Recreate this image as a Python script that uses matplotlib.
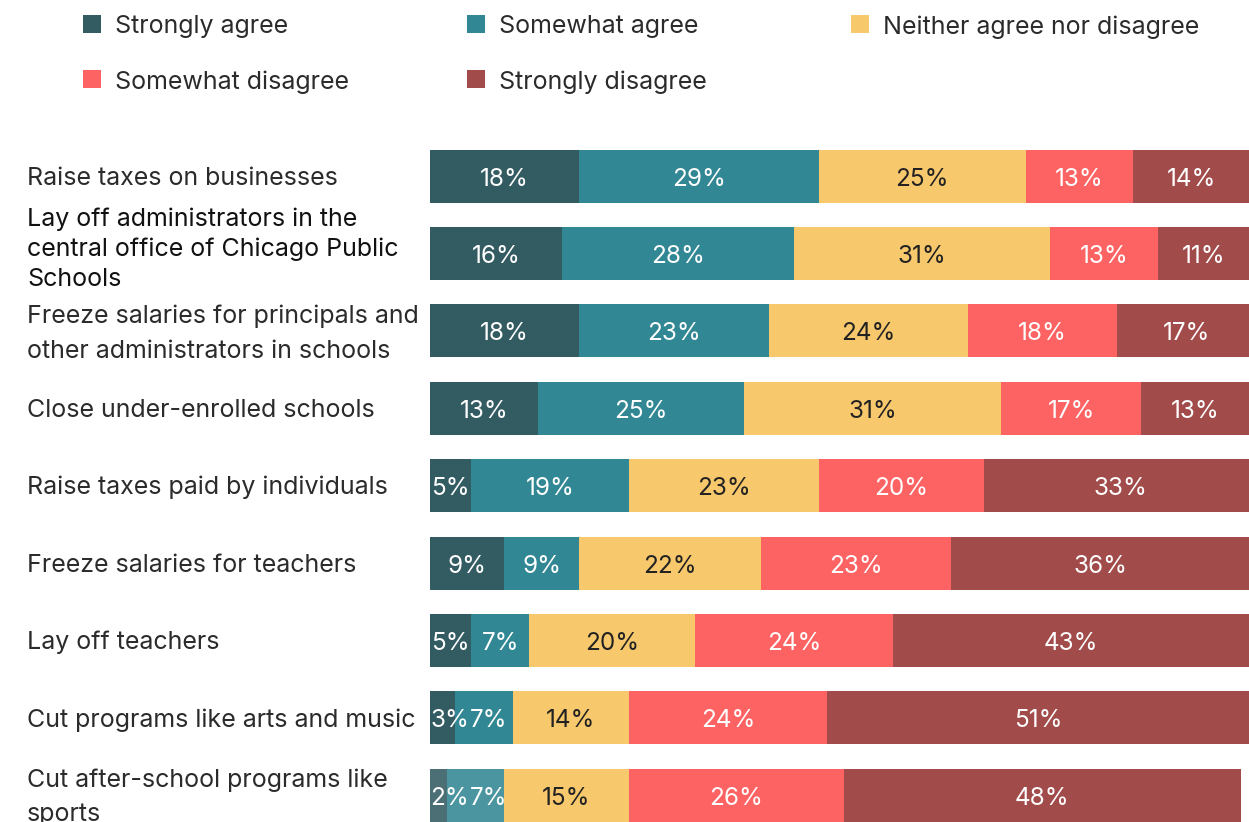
import matplotlib.pyplot as plt
from matplotlib.patches import Rectangle

plt.rcParams['font.family'] = ['Inter', 'DejaVu Sans']

# survey responses (% of respondents), one row per proposal
questions = [
    "Raise taxes on businesses",
    "Lay off administrators in the\ncentral office of Chicago Public\nSchools",
    "Freeze salaries for principals and\nother administrators in schools",
    "Close under-enrolled schools",
    "Raise taxes paid by individuals",
    "Freeze salaries for teachers",
    "Lay off teachers",
    "Cut programs like arts and music",
    "Cut after-school programs like\nsports",
]
categories = ["Strongly agree", "Somewhat agree", "Neither agree nor disagree",
              "Somewhat disagree", "Strongly disagree"]
strongly_agree = [18, 16, 18, 13, 5, 9, 5, 3, 2]
somewhat_agree = [29, 28, 23, 25, 19, 9, 7, 7, 7]
neither = [25, 31, 24, 31, 23, 22, 20, 14, 15]
somewhat_disagree = [13, 13, 18, 17, 20, 23, 24, 24, 26]
strongly_disagree = [14, 11, 17, 13, 33, 36, 43, 51, 48]

colors = ["#335b62", "#318793", "#f8c86c", "#fe6363", "#a14b4a"]
text_colors = ["white", "white", "#222222", "white", "white"]

series = [strongly_agree, somewhat_agree, neither, somewhat_disagree, strongly_disagree]

W, H = 1249, 822
fig = plt.figure(figsize=(W / 100, H / 100), dpi=100)

# axes spans the bar area in pixel terms
left_px, right_px, top_px, bottom_px = 430, 1249, 140, 822
ax = fig.add_axes([left_px / W, 1 - bottom_px / H,
                   (right_px - left_px) / W, (bottom_px - top_px) / H])

row_gap = 77.4  # px between row centres
first_center = 176
ax.set_ylim((bottom_px - first_center) / row_gap, (top_px - first_center) / row_gap)
ax.set_xlim(0, 99)

y = list(range(len(questions)))
lefts = [0] * len(questions)
row_texts = [[] for _ in questions]
for k, vals in enumerate(series):
    bars = ax.barh(y, vals, left=lefts, height=53 / row_gap, color=colors[k],
                   edgecolor='none', linewidth=0, zorder=1)
    # last row is shown slightly faded for the agree segments
    if k < 2:
        bars[-1].set_alpha(0.88)
    for i, v in enumerate(vals):
        # tiny first segments: keep the label inside the bar's left edge
        if k == 0 and v < 4.4:
            x, ha = 0.0, 'left'
        else:
            x, ha = lefts[i] + v / 2, 'center'
        t = ax.text(x, i + 0.04, f"{v}%", ha=ha, va='center',
                    fontsize=17.5, color=text_colors[k], zorder=5)
        row_texts[i].append(t)
    lefts = [a + b for a, b in zip(lefts, vals)]

ax.axis('off')

# nudge labels right where neighbouring ones would collide
fig.canvas.draw()
renderer = fig.canvas.get_renderer()
px_per_unit = ax.transData.transform((1, 0))[0] - ax.transData.transform((0, 0))[0]
for texts in row_texts:
    prev_right = None
    for t in texts:
        bb = t.get_window_extent(renderer)
        if prev_right is not None and bb.x0 < prev_right:
            dx = (prev_right - bb.x0 + 1) / px_per_unit
            tx, ty = t.get_position()
            t.set_position((tx + dx, ty))
            bb = t.get_window_extent(renderer)
        prev_right = bb.x1

# row labels on the left
label_shift = [0, -6, 1, 0, 0, 0, 0, 0, 0]
for i, q in enumerate(questions):
    yy = 1 - (first_center + 2 + label_shift[i] + i * row_gap) / H
    ls = 1.38 if i == 1 else 1.65
    fig.text(27 / W, yy, q, ha='left', va='center', fontsize=18,
             color='#111111' if i == 1 else '#2b2b2b', linespacing=ls)

# legend on top: three columns, row by row
leg_cols = [83, 467, 851]
leg_rows = [24, 79]
for k, name in enumerate(categories):
    cx = leg_cols[k % 3]
    cy = leg_rows[k // 3]
    fig.add_artist(Rectangle((cx / W, 1 - (cy + 9) / H), 18 / W, 18 / H,
                             transform=fig.transFigure, facecolor=colors[k],
                             edgecolor='none'))
    fig.text((cx + 32) / W, 1 - (cy + 3) / H, name, ha='left', va='center',
             fontsize=18, color='#2b2b2b')

fig.savefig("out.png", dpi=100)
